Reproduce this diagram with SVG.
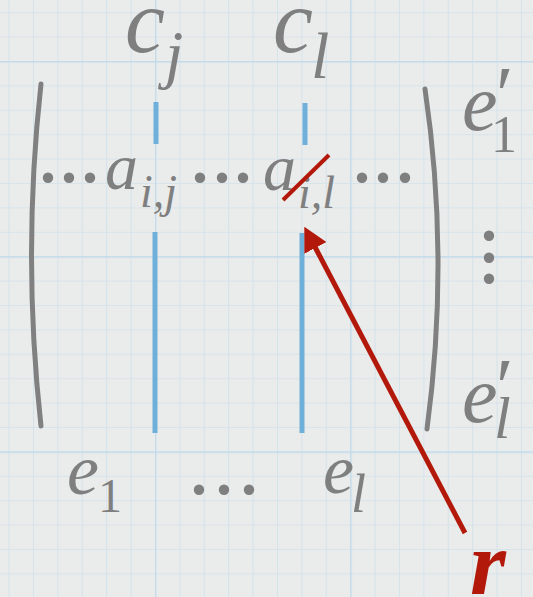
<svg xmlns="http://www.w3.org/2000/svg" width="533" height="597" viewBox="0 0 533 597">
  <defs>
    <pattern id="minor" patternUnits="userSpaceOnUse" x="8.6" y="12.2" width="24.4" height="24.4">
      <path d="M0,0 V24.4 M0,0 H24.4" fill="none" stroke="#d1e2ec" stroke-width="1.7"/>
    </pattern>
    <pattern id="major" patternUnits="userSpaceOnUse" x="155" y="61" width="195.2" height="195.2">
      <path d="M0,0 V195.2 M0,0 H195.2" fill="none" stroke="#c3dbea" stroke-width="2.8"/>
    </pattern>
    <marker id="head" markerUnits="userSpaceOnUse" viewBox="0 0 24 25" refX="1" refY="12.5" markerWidth="24" markerHeight="25" orient="auto">
      <path d="M0,0 L24,12.5 L0,25 Z" fill="#b3190b"/>
    </marker>
  </defs>
  <style>
    .m { font-family: 'Liberation Serif', serif; font-style: italic; fill: #7f7f7f; }
    .up { font-style: normal; }
    .dot { font-family: 'Liberation Serif', serif; fill: #7f7f7f; font-size: 88px; text-anchor: middle; font-style: normal; }
    .col { stroke: #6eb0da; stroke-width: 5; fill: none; }
    .paren { stroke: #808080; stroke-width: 5; fill: none; stroke-linecap: round; }
    .red { stroke: #b3190b; fill: none; }
  </style>

  <rect width="533" height="597" fill="#eaebeb"/>
  <rect width="533" height="597" fill="url(#minor)"/>
  <rect width="533" height="597" fill="url(#major)"/>

  <g id="matrix">
    <path class="paren" d="M41,84 Q22,255 41,426"/>
    <path class="paren" d="M425,89 Q450,258 427,429"/>
  </g>

  <g id="column-j">
    <line class="col" x1="156" y1="102" x2="156" y2="144"/>
    <line class="col" x1="155" y1="232" x2="155" y2="433"/>
    <text class="m" font-family="Liberation Serif"><tspan x="125" y="52" font-size="90">c</tspan><tspan x="165" y="76" font-size="66">j</tspan></text>
  </g>

  <g id="column-l">
    <line class="col" x1="305" y1="103" x2="305" y2="145"/>
    <line class="col" x1="302" y1="233" x2="302" y2="433"/>
    <text class="m" font-family="Liberation Serif"><tspan x="273" y="52" font-size="90">c</tspan><tspan x="311" y="78" font-size="66">l</tspan></text>
  </g>

  <g id="row">
    <text class="dot" font-family="Liberation Serif" x="48 69 90" y="182 182 182">...</text>
    <text class="m" font-family="Liberation Serif"><tspan x="105" y="189" font-size="66">a</tspan><tspan x="140" y="207" font-size="46">i,j</tspan></text>
    <text class="dot" font-family="Liberation Serif" x="200 222 243" y="182 182 182">...</text>
    <text class="m" font-family="Liberation Serif"><tspan x="263" y="190" font-size="66">a</tspan><tspan x="298" y="208" font-size="46">i,l</tspan></text>
    <text class="dot" font-family="Liberation Serif" x="362 383 405" y="182 182 182">...</text>
  </g>

  <g id="row-labels">
    <text class="m" font-family="Liberation Serif"><tspan x="462" y="130" font-size="80">e</tspan><tspan class="up" x="496" y="122" font-size="80">′</tspan><tspan class="up" x="491" y="152" font-size="52">1</tspan></text>
    <text class="dot" font-family="Liberation Serif" x="489 489 489" y="240 262 283">...</text>
    <text class="m" font-family="Liberation Serif"><tspan x="462" y="422" font-size="80">e</tspan><tspan class="up" x="496" y="414" font-size="80">′</tspan><tspan x="494" y="438" font-size="60">l</tspan></text>
  </g>

  <g id="col-labels">
    <text class="m" font-family="Liberation Serif"><tspan x="67" y="494" font-size="72">e</tspan><tspan class="up" x="98" y="512" font-size="48">1</tspan></text>
    <text class="dot" font-family="Liberation Serif" x="199 224 249" y="494 494 494">...</text>
    <text class="m" font-family="Liberation Serif"><tspan x="323" y="493" font-size="70">e</tspan><tspan x="351" y="512" font-size="54">l</tspan></text>
  </g>

  <g id="connectors">
    <line class="red" x1="283" y1="200" x2="329" y2="155" stroke-width="4"/>
    <line class="red" x1="465" y1="533" x2="315" y2="247" stroke-width="5" marker-end="url(#head)"/>
  </g>

  <g id="r-node">
    <text x="470" y="594" font-size="92" font-family="Liberation Serif" font-style="italic" font-weight="bold" fill="#b3190b">r</text>
  </g>
</svg>
